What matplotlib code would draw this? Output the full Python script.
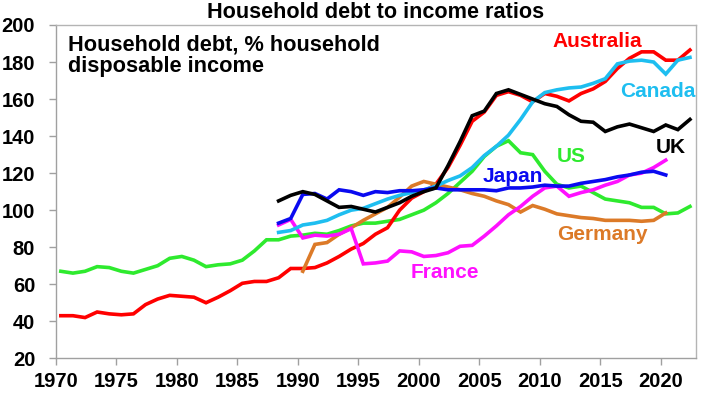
import matplotlib
matplotlib.use("Agg")
import matplotlib.pyplot as plt
import numpy as np

plt.rcParams['font.family'] = ['Liberation Sans', 'DejaVu Sans']
plt.rcParams['font.weight'] = 'bold'

# ---- data ----
years_aus = list(range(1970, 2023))
australia = [43, 43, 42, 45, 44, 43.5, 44, 49, 52, 54, 53.5, 53, 50, 53, 56.5, 60.5, 61.5, 61.5,
             63.5, 68.5, 68.5, 69, 71.5, 75, 79, 82, 87, 90.5, 100, 106.5, 110, 114, 123, 135,
             148, 153, 162, 164, 162, 158.5, 163, 161.5, 159, 163, 165.5, 169.5, 176.5, 182,
             185.5, 185.5, 181, 181, 186.5]
years_us = list(range(1970, 2023))
us = [67, 66, 67, 69.5, 69, 67, 66, 68, 70, 74, 75, 73, 69.5, 70.5, 71, 73, 78, 84, 84, 86,
      86.5, 87.5, 87, 89, 91.5, 93, 93, 94, 95, 97.5, 100, 104, 109, 115, 121, 129, 134.5,
      137.5, 131, 130, 121, 114, 112, 113, 109.5, 106, 105, 104, 101.5, 101.5, 98, 98.5, 102]
years_jp = list(range(1988, 2021))
japan = [93, 95.5, 108.5, 109, 106, 111, 110, 108, 110, 109.5, 110.5, 110.5, 111, 112, 111,
         111, 111, 111, 110.5, 112, 112, 112.5, 113.5, 113, 113, 114.5, 115.5, 116.5, 118,
         119, 120.5, 121, 119]
years_ca = list(range(1988, 2023))
canada = [88, 89, 92, 93, 94.5, 97.5, 100, 101, 103.5, 106, 108, 109.5, 111, 113, 116, 118.5,
          123, 129.5, 134.5, 140.5, 149, 158.5, 163.5, 165, 166, 166.5, 168.5, 171, 179, 180.5,
          181, 180, 173.5, 181, 182.5]
years_uk = list(range(1988, 2023))
uk = [105, 108, 110, 108.5, 105, 101.5, 102, 100.5, 99, 101.5, 104, 107.5, 110, 112, 124, 137,
      151, 153.5, 163, 165, 162.5, 160, 157.5, 156, 151.5, 148, 147.5, 142.5, 145, 146.5,
      144.5, 142.5, 146, 143.5, 149]
years_fr = list(range(1988, 2021))
france = [92, 95, 85, 86.5, 86, 87, 90, 71, 71.5, 72.5, 78, 77.5, 75, 75.5, 77, 80.5, 81, 86,
          91.5, 97.5, 102, 107.5, 112, 113, 107.5, 109.5, 111, 113.5, 115.5, 119, 120, 123, 127]
years_de = list(range(1990, 2021))
germany = [67, 81.5, 82.5, 87, 90.5, 94.5, 98, 101.5, 107, 113, 115.5, 114, 112.5, 111, 109,
           107.5, 105, 103, 99, 102.5, 100.5, 98, 97, 96, 95.5, 94.5, 94.5, 94.5, 94, 94.5, 98.5]

x_ticks = list(range(1970, 2021, 5))
y_ticks = list(range(20, 201, 20))

# ---- styling ----
c_aus = '#FF0000'
c_ca = '#1EBEF0'
c_uk = '#000000'
c_us = '#2EEA2E'
c_jp = '#0A0AF0'
c_de = '#DC7A28'
c_fr = '#FF10FF'

fig = plt.figure(figsize=(7.2, 3.93), dpi=100)
ax_l, ax_r, ax_t, ax_b = 56, 696, 25, 358.3
ax = fig.add_axes([ax_l/720, 1-ax_b/393, (ax_r-ax_l)/720, (ax_b-ax_t)/393])

off = 0.4
lw = 2.6
series = [
    (years_us, us, c_us),
    (years_aus, australia, c_aus),
    (years_de, germany, c_de),
    (years_fr, france, c_fr),
    (years_ca, canada, c_ca),
    (years_jp, japan, c_jp),
    (years_uk, uk, c_uk),
]
for yrs, vals, col in series:
    ax.plot(np.array(yrs) + off, vals, color=col, lw=lw, solid_joinstyle='miter')

ax.set_xlim(1970, 2022.9)
ax.set_ylim(20, 200)
ax.set_xticks(x_ticks)
ax.set_yticks(y_ticks)
ax.set_xticklabels([str(v) for v in x_ticks], fontsize=14.5, fontweight='bold')
ax.set_yticklabels([str(v) for v in y_ticks], fontsize=14.5, fontweight='bold')
ax.tick_params(axis='both', colors='#A0A0A0', labelcolor='black', length=5, width=1)
ax.tick_params(axis='x', pad=5)
ax.tick_params(axis='y', pad=10)
for s in ax.spines.values():
    s.set_color('#B4B4B4')
    s.set_linewidth(1)
ax.spines['left'].set_color('#A0A0A0')
ax.spines['bottom'].set_color('#A0A0A0')

fs = 15
lab = dict(fontsize=fs, fontweight='bold', va='baseline', ha='left')
ax.text(2011.05, 188.3, 'Australia', color=c_aus, **lab)
ax.text(2016.6, 161.3, 'Canada', color=c_ca, **lab)
ax.text(2019.6, 130.7, 'UK', color=c_uk, **lab)
ax.text(2011.4, 126.2, 'US', color=c_us, **lab)
ax.text(2005.3, 115.4, 'Japan', color=c_jp, **lab)
ax.text(2011.4, 83.9, 'Germany', color=c_de, **lab)
ax.text(1999.3, 63.2, 'France', color=c_fr, **lab)

fig.text(68/720, 1-50/393, 'Household debt, % household', fontsize=15.7,
         fontweight='bold', va='baseline', ha='left')
fig.text(68/720, 1-71.7/393, 'disposable income', fontsize=15.7,
         fontweight='bold', va='baseline', ha='left')
fig.text((ax_l+ax_r)/2/720, 1-18.3/393, 'Household debt to income ratios', fontsize=15.6,
         fontweight='bold', va='baseline', ha='center')

fig.savefig('out.png', dpi=100)
